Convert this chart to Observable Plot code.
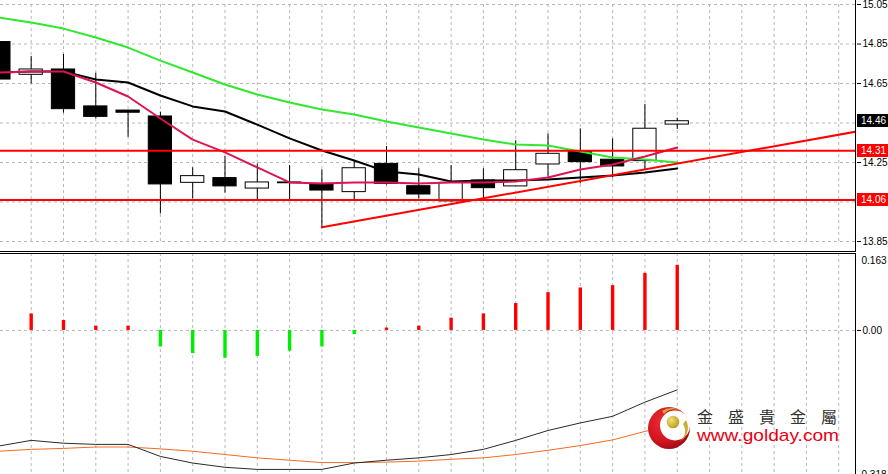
<!DOCTYPE html>
<html><head><meta charset="utf-8">
<script src="https://cdn.jsdelivr.net/npm/d3@7"></script>
<script src="https://cdn.jsdelivr.net/npm/@observablehq/plot@0.6"></script>
<style>
html,body{margin:0;padding:0;background:#fff;overflow:hidden;}
#wrap{position:relative;width:888px;height:474px;overflow:hidden;background:#fff;font-family:"Liberation Sans",Arial,sans-serif;}
#wrap > * {position:absolute;}
.box{left:857px;width:31px;height:13px;color:#fff;font-size:10px;line-height:13px;padding-left:4px;box-sizing:border-box;}
</style></head><body><div id="wrap"></div>
<script>
// ---- data (bar index 0..21) ----
const open  = [14.86, 14.694, 14.721, 14.534, 14.513, 14.483, 14.147, 14.171, 14.118, 14.149, 14.142, 14.100, 14.243, 14.130, 14.053, 14.159, 14.129, 14.240, 14.306, 14.264, 14.257, 14.442];
const high  = [14.87, 14.787, 14.797, 14.702, 14.513, 14.505, 14.223, 14.280, 14.243, 14.235, 14.213, 14.260, 14.331, 14.218, 14.235, 14.218, 14.360, 14.395, 14.420, 14.370, 14.544, 14.474];
const low   = [14.66, 14.648, 14.500, 14.471, 14.378, 13.990, 14.066, 14.095, 14.058, 14.058, 13.922, 14.058, 14.135, 14.066, 14.050, 14.058, 14.129, 14.175, 14.142, 14.172, 14.210, 14.417];
const close = [14.67, 14.721, 14.520, 14.481, 14.502, 14.139, 14.181, 14.129, 14.149, 14.145, 14.108, 14.221, 14.142, 14.088, 14.147, 14.120, 14.211, 14.294, 14.252, 14.230, 14.421, 14.459];
const maSlow = [14.984, 14.959, 14.928, 14.883, 14.832, 14.766, 14.706, 14.645, 14.594, 14.554, 14.518, 14.493, 14.458, 14.427, 14.397, 14.366, 14.341, 14.336, 14.306, 14.275, 14.265, 14.250];
const maMid  = [14.706, 14.711, 14.711, 14.670, 14.655, 14.589, 14.534, 14.508, 14.442, 14.372, 14.311, 14.260, 14.204, 14.189, 14.154, 14.159, 14.159, 14.164, 14.174, 14.184, 14.199, 14.220];
const maFast = [14.706, 14.711, 14.711, 14.655, 14.584, 14.473, 14.366, 14.301, 14.225, 14.149, 14.144, 14.149, 14.149, 14.144, 14.149, 14.149, 14.154, 14.174, 14.215, 14.240, 14.280, 14.326];
const levels = [14.31, 14.06];
const lastPrice = 14.46;
const trendBars = [10, 27];
const trendPrices = [13.922, 14.420];
const priceGrid = [15.05, 14.85, 14.65, 14.45, 14.25, 14.05, 13.85];
const priceTickLabels = [15.05, 14.85, 14.65, 14.25, 13.85];
const hist = [null, 0.035, 0.021, 0.009, 0.009, -0.035, -0.049, -0.059, -0.055, -0.044, -0.035, -0.009, 0.005, 0.009, 0.026, 0.035, 0.057, 0.080, 0.090, 0.095, 0.121, 0.138];
const oscMain = [-0.245, -0.233, -0.239, -0.2415, -0.2415, -0.267, -0.281, -0.290, -0.2945, -0.2945, -0.2945, -0.281, -0.275, -0.270, -0.263, -0.252, -0.233, -0.212, -0.196, -0.182, -0.152, -0.126];
const oscSignal = [-0.256, -0.252, -0.250, -0.247, -0.247, -0.251, -0.256, -0.263, -0.270, -0.275, -0.280, -0.280, -0.279, -0.277, -0.273, -0.270, -0.263, -0.254, -0.244, -0.232, -0.214, -0.199];
const oscMax = 0.163, oscMin = -0.318;
const oscLabels = ["0.163", "0.00", "0.318"];

// ---- build ----
const idx = d3.range(open.length);
const candles = idx.map(i => ({i, o: open[i], h: high[i], l: low[i], c: close[i]}));
const series = arr => idx.map(i => ({i, v: arr[i]})).filter(d => d.v != null);
const trend = trendBars.map((b, k) => ({i: b, v: trendPrices[k]}));
const gridBars = d3.range(1, 27);
const XD = [0.05, 26.55];
const grid = {stroke: "#b8b8b8", strokeDasharray: "3,3", strokeWidth: 1};
const font = {fontFamily: "Liberation Sans, Arial, sans-serif", fontSize: "10px", color: "#000", background: "transparent", overflow: "hidden"};

const pricePlot = Plot.plot({
  width: 888, height: 252, marginTop: 4, marginBottom: 11, marginLeft: 0, marginRight: 32,
  x: {domain: XD, axis: null, label: null},
  y: {domain: [13.85, 15.05], axis: null, label: null},
  style: font,
  marks: [
    Plot.ruleX(gridBars, grid),
    Plot.ruleY(priceGrid, grid),
    Plot.ruleX(candles, {x: "i", y1: "l", y2: "h", stroke: "#000", strokeWidth: 1}),
    Plot.rect(candles.filter(d => d.c >= d.o), {x1: d => d.i - 0.36, x2: d => d.i + 0.36, y1: "o", y2: "c", fill: "#fff", stroke: "#000", strokeWidth: 1}),
    Plot.rect(candles.filter(d => d.c < d.o), {x1: d => d.i - 0.36, x2: d => d.i + 0.36, y1: "o", y2: "c", fill: "#000", stroke: "#000", strokeWidth: 1}),
    Plot.line(series(maSlow), {x: "i", y: "v", stroke: "#2fe82f", strokeWidth: 2}),
    Plot.line(series(maMid), {x: "i", y: "v", stroke: "#000", strokeWidth: 2}),
    Plot.line(series(maFast), {x: "i", y: "v", stroke: "#dc1452", strokeWidth: 2}),
    Plot.ruleY(levels, {stroke: "#ff0000", strokeWidth: 2}),
    Plot.line(trend, {x: "i", y: "v", stroke: "#ff0000", strokeWidth: 2, clip: true}),
    Plot.axisY(priceTickLabels, {anchor: "right", label: null, tickSize: 4, tickPadding: 2, tickFormat: d => d.toFixed(2)})
  ]
});

const oscPlot = Plot.plot({
  width: 888, height: 227, marginTop: 0, marginBottom: 0, marginLeft: 0, marginRight: 32,
  x: {domain: XD, axis: null, label: null},
  y: {domain: [oscMin, oscMax], axis: null, label: null},
  style: font,
  marks: [
    Plot.ruleX(gridBars, grid),
    Plot.ruleY([0], grid),
    Plot.ruleX(series(hist).filter(d => d.v >= 0), {x: "i", y1: 0, y2: "v", stroke: "#ff0000", strokeWidth: 3.4}),
    Plot.ruleX(series(hist).filter(d => d.v < 0), {x: "i", y1: 0, y2: "v", stroke: "#00ee00", strokeWidth: 3.4}),
    Plot.line(series(oscSignal), {x: "i", y: "v", stroke: "#f26b21", strokeWidth: 1}),
    Plot.line(series(oscMain), {x: "i", y: "v", stroke: "#2a2a2a", strokeWidth: 1}),
    Plot.axisY([0], {anchor: "right", label: null, tickSize: 4, tickPadding: 2, tickFormat: () => oscLabels[1]}),
    Plot.axisY([oscMax], {anchor: "right", label: null, tickSize: 0, tickPadding: 5, dy: 7, tickFormat: () => oscLabels[0]}),
    Plot.axisY([oscMin], {anchor: "right", label: null, tickSize: 0, tickPadding: 5, dy: -5.5, tickFormat: () => oscLabels[2]})
  ]
});

const wrap = document.getElementById("wrap");
pricePlot.style.left = "0px"; pricePlot.style.top = "0px";
oscPlot.style.left = "0px"; oscPlot.style.top = "253px";
wrap.appendChild(pricePlot);
wrap.appendChild(oscPlot);

function div(css, cls, text) {
  const d = document.createElement("div");
  if (cls) d.className = cls;
  d.style.cssText += css;
  if (text != null) d.textContent = text;
  wrap.appendChild(d);
  return d;
}
// panel frames
div("left:855px;top:0px;width:1px;height:252px;background:#000;");
div("left:0px;top:251px;width:856px;height:1px;background:#000;");
div("left:0px;top:253px;width:856px;height:1px;background:#000;");
div("left:855px;top:253px;width:1px;height:221px;background:#000;");

// price boxes
const ys = pricePlot.scale("y");
div(`top:${ys.apply(lastPrice) - 6.5}px;background:#000;`, "box", lastPrice.toFixed(2));
levels.forEach(v => div(`top:${ys.apply(v) - 6.5}px;background:#ff0000;`, "box", v.toFixed(2)));

// watermark logo
const ns = "http://www.w3.org/2000/svg";
const logo = document.createElementNS(ns, "svg");
logo.setAttribute("width", 888); logo.setAttribute("height", 474);
logo.style.left = "0px"; logo.style.top = "0px";
logo.innerHTML = `
<defs><radialGradient id="rg" cx="0.4" cy="0.35" r="0.7">
<stop offset="0" stop-color="#f0303a"/><stop offset="0.7" stop-color="#d0121c"/><stop offset="1" stop-color="#9a0a12"/></radialGradient>
<radialGradient id="gg" cx="0.35" cy="0.35" r="0.7"><stop offset="0" stop-color="#f3e27a"/><stop offset="1" stop-color="#b89a1e"/></radialGradient></defs>
<circle cx="669" cy="428" r="21" fill="url(#rg)"/>
<circle cx="675" cy="425.5" r="15" fill="#fff"/>
<path d="M662,411 A16,16 0 0 1 683,413 A13,13 0 0 0 664,414 Z" fill="#c9ad36"/>
<path d="M686,420 A16,16 0 0 1 679,442 A13,13 0 0 0 683,424 Z" fill="#c9ad36"/>
<circle cx="673" cy="422" r="6.3" fill="url(#gg)"/>
<text x="697" y="422.5" font-family="Noto Sans CJK TC" font-size="16" fill="#333" letter-spacing="15">金盛貴金屬</text>
<text x="697" y="441" font-family="Liberation Sans, Arial" font-size="17" fill="#e60012" textLength="142" lengthAdjust="spacingAndGlyphs">www.golday.com</text>`;
wrap.appendChild(logo);
</script></body></html>
